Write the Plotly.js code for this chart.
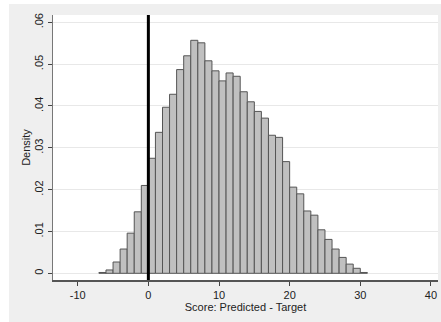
<!DOCTYPE html>
<html>
<head>
<meta charset="utf-8">
<script src="https://cdn.plot.ly/plotly-3.0.1.min.js"></script>
<style>
html,body{margin:0;padding:0;background:#ffffff;width:441px;height:322px;overflow:hidden;}
#chart{position:absolute;left:9px;top:4px;width:432px;height:318px;}
</style>
</head>
<body>
<div id="chart"></div>
<script>
// Bin left edges (bin width 1)
var binStart = [-7,-6,-5,-4,-3,-2,-1,0,1,2,3,4,5,6,7,8,9,10,11,12,13,14,15,16,17,18,19,20,21,22,23,24,25,26,27,28,29,30];
// Density values
var density = [0.0002,0.0008,0.0027,0.0058,0.0096,0.0147,0.0210,0.0275,0.0337,0.0397,0.0428,0.0487,0.0520,0.0557,0.0551,0.0508,0.0484,0.0460,0.0479,0.0471,0.0434,0.0410,0.0387,0.0371,0.0330,0.0325,0.0267,0.0206,0.0190,0.0149,0.0139,0.0104,0.0081,0.0058,0.0038,0.0022,0.0012,0.0002];
var xTickVals = [-10,0,10,20,30,40];
var xTickText = ["-10","0","10","20","30","40"];
var yTickVals = [0,0.01,0.02,0.03,0.04,0.05,0.06];
var yTickText = ["0",".01",".02",".03",".04",".05",".06"];
var refLineX = 0;

var fontFam = "Liberation Sans, Arial, sans-serif";
var trace = {
  type: "bar",
  x: binStart,
  y: density,
  width: 1,
  offset: 0,
  marker: {color: "#c0c0c0", line: {color: "#555555", width: 1}},
  hoverinfo: "skip"
};
var layout = {
  width: 432, height: 318,
  margin: {l: 44, r: 3, t: 11, b: 42, pad: 0},
  paper_bgcolor: "#efefef",
  plot_bgcolor: "#ffffff",
  showlegend: false,
  bargap: 0,
  font: {family: fontFam, size: 11, color: "#222222"},
  xaxis: {
    range: [-13.5, 41],
    tickmode: "array", tickvals: xTickVals, ticktext: xTickText,
    ticks: "outside", ticklen: 4, tickcolor: "#444444", tickwidth: 1,
    showline: true, linecolor: "#555555", linewidth: 1.5,
    showgrid: false, zeroline: false,
    tickfont: {family: fontFam, size: 11, color: "#222222"},
    title: {text: "Score: Predicted - Target", standoff: 0, font: {family: fontFam, size: 11, color: "#222222"}}
  },
  yaxis: {
    range: [-0.0016, 0.06175],
    tickmode: "array", tickvals: yTickVals, ticktext: yTickText,
    tickangle: -90,
    ticks: "outside", ticklen: 4, tickcolor: "#444444", tickwidth: 1,
    showline: true, linecolor: "#777777", linewidth: 1.5,
    showgrid: true, gridcolor: "#e8e8e8", gridwidth: 1,
    zeroline: false,
    tickfont: {family: fontFam, size: 11, color: "#222222"},
    title: {text: "Density", standoff: 0, font: {family: fontFam, size: 11, color: "#222222"}}
  },
  shapes: [{
    type: "line", xref: "x", yref: "paper",
    x0: refLineX, x1: refLineX, y0: 0, y1: 1,
    line: {color: "#000000", width: 3}
  }]
};
Plotly.newPlot("chart", [trace], layout, {displayModeBar: false, staticPlot: true});
</script>
</body>
</html>
